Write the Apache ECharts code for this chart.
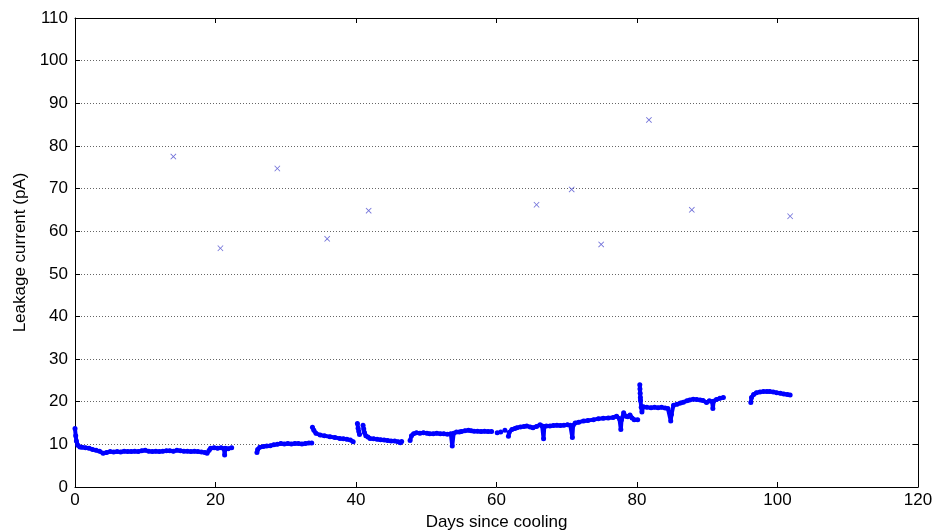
<!DOCTYPE html>
<html>
<head>
<meta charset="utf-8">
<script src="https://cdn.jsdelivr.net/npm/echarts@6/dist/echarts.min.js"></script>
<style>
html,body{margin:0;padding:0;background:#fff;}
#chart{width:949px;height:531px;}
</style>
</head>
<body>
<div id="chart"></div>
<script>
// Leakage current measurements (null = gap in data)
const days = [
0.0,0.1,0.2,0.4,0.7,1.0,1.5,2.0,2.5,3.0,3.5,4.0,4.5,5.0,5.5,6.0,6.5,7.0,7.5,8.0,8.5,9.0,9.5,10.0,10.5,11.0,11.5,12.0,12.5,13.0,13.5,14.0,14.5,15.0,15.5,16.0,16.5,17.0,17.5,18.0,18.5,18.8,19.1,19.3,19.8,20.3,20.8,21.2,21.3,21.4,21.8,22.3,null,
25.9,26.0,26.3,26.8,27.3,27.8,28.3,28.8,29.3,29.8,30.3,30.8,31.3,31.8,32.3,32.8,33.3,33.7,null,
33.8,34.0,34.3,34.9,35.5,36.3,37.0,37.7,38.2,38.7,39.2,39.6,null,
40.2,40.3,40.4,40.5,null,
41.0,41.1,41.2,41.4,41.7,42.0,42.5,43.0,43.5,44.0,44.5,45.0,45.5,46.0,46.3,46.5,null,
47.7,47.9,48.2,48.6,49.1,49.6,50.1,50.5,51.0,51.5,52.0,52.5,53.0,53.5,53.7,53.9,54.3,54.7,55.0,55.5,56.0,56.4,56.8,57.3,57.8,58.3,58.8,59.3,null,
60.1,null,60.6,null,61.2,null,
61.7,61.8,62.2,62.6,62.9,63.4,63.9,64.3,64.8,65.2,65.7,66.2,66.5,66.7,66.8,67.1,67.6,68.1,68.6,69.1,69.6,70.1,70.5,70.8,70.9,71.2,71.7,72.4,73.0,73.8,74.5,75.2,75.9,76.6,77.1,77.5,77.7,77.8,78.1,78.4,78.7,79.0,79.3,79.6,80.1,null,
80.4,80.42,80.45,80.48,80.5,80.6,80.7,80.9,81.4,82.0,82.5,83.0,83.5,84.0,84.4,84.8,84.9,85.2,85.7,86.2,86.6,87.1,87.5,88.0,88.5,89.0,89.4,89.9,90.3,90.7,90.8,90.9,91.3,91.8,92.3,null,
96.2,96.3,96.6,97.0,97.5,98.0,98.5,98.9,99.4,99.9,100.4,100.9,101.4,101.8
];
const current = [
13.7,12.0,10.8,9.8,9.4,9.3,9.2,9.1,8.8,8.6,8.4,7.9,8.1,8.3,8.2,8.3,8.2,8.4,8.3,8.3,8.4,8.3,8.5,8.6,8.4,8.3,8.4,8.3,8.4,8.5,8.5,8.4,8.6,8.5,8.4,8.4,8.3,8.4,8.3,8.2,8.1,7.9,8.6,9.1,9.2,9.1,9.2,9.0,7.5,9.1,9.0,9.2,null,
8.1,8.8,9.3,9.5,9.6,9.7,9.9,10.0,10.2,10.1,10.2,10.1,10.2,10.2,10.1,10.2,10.3,10.3,null,
14.0,13.3,12.6,12.2,12.0,11.8,11.6,11.4,11.3,11.2,11.0,10.6,null,
14.9,13.8,13.0,12.3,null,
14.5,13.6,12.8,12.0,11.7,11.4,11.3,11.2,11.1,11.0,10.9,10.8,10.8,10.6,10.4,10.7,null,
10.9,12.0,12.5,12.7,12.6,12.7,12.6,12.5,12.5,12.6,12.5,12.5,12.4,12.5,9.6,12.6,12.9,12.9,13.0,13.2,13.3,13.2,13.1,13.1,13.0,13.1,13.0,13.0,null,
12.7,null,12.9,null,13.3,null,
11.9,12.8,13.5,13.7,13.9,14.1,14.2,14.3,14.1,13.9,14.2,14.6,14.3,11.3,14.2,14.3,14.3,14.4,14.5,14.4,14.5,14.6,14.5,11.6,14.4,15.0,15.2,15.5,15.6,15.8,16.0,16.1,16.2,16.3,16.6,16.0,13.5,15.8,17.4,16.6,16.5,16.9,16.2,15.8,15.8,null,
24.0,23.0,22.0,21.0,20.3,18.7,17.6,18.8,18.7,18.6,18.7,18.6,18.7,18.5,18.4,15.5,17.0,19.2,19.4,19.7,19.9,20.2,20.4,20.6,20.5,20.4,20.3,19.8,20.2,20.0,18.4,20.1,20.5,20.8,21.0,null,
19.8,21.0,21.7,22.1,22.3,22.4,22.4,22.4,22.3,22.1,22.0,21.8,21.7,21.6
];
// Outlier readings (drawn as crosses)
const outlierDays = [14, 20.7, 28.8, 35.9, 41.8, 65.7, 70.7, 74.9, 81.7, 87.8, 101.8];
const outlierCurrent = [77.5, 56.0, 74.7, 58.2, 64.8, 66.2, 69.8, 56.9, 86.1, 65.0, 63.5];

const xTicks = {min: 0, max: 120, interval: 20};
const yTicks = {min: 0, max: 110, interval: 10};

const leakData = days.map((d, i) => d === null ? [NaN, NaN] : [d, current[i] === null ? NaN : current[i]]);
const outData = outlierDays.map((d, i) => [d, outlierCurrent[i]]);

const FONT = 'Liberation Sans';
const chart = echarts.init(document.getElementById('chart'), null, {renderer: 'canvas'});
const tickStyle = {show: true, inside: true, length: 5, lineStyle: {color: '#000', width: 1}};
const lineStyle = {show: true, lineStyle: {color: '#000', width: 1}};
chart.setOption({
  animation: false,
  backgroundColor: '#fff',
  grid: {left: 75, right: 31, top: 18, bottom: 44, containLabel: false, outerBoundsMode: 'none'},
  xAxis: [
    {type: 'value', min: xTicks.min, max: xTicks.max, interval: xTicks.interval, position: 'bottom',
     axisLine: Object.assign({onZero: false}, lineStyle), axisTick: tickStyle, splitLine: {show: false},
     axisLabel: {color: '#000', fontFamily: FONT, fontSize: 17, margin: 5},
     name: 'Days since cooling', nameLocation: 'middle', nameGap: 27,
     nameTextStyle: {color: '#000', fontFamily: FONT, fontSize: 17}},
    {type: 'value', min: xTicks.min, max: xTicks.max, interval: xTicks.interval, position: 'top',
     axisLine: Object.assign({onZero: false}, lineStyle), axisTick: tickStyle, splitLine: {show: false},
     axisLabel: {show: false}}
  ],
  yAxis: [
    {type: 'value', min: yTicks.min, max: yTicks.max, interval: yTicks.interval, position: 'left',
     axisLine: Object.assign({onZero: false}, lineStyle), axisTick: tickStyle,
     splitLine: {show: true, lineStyle: {color: '#666', width: 1, type: [1, 2]}},
     axisLabel: {color: '#000', fontFamily: FONT, fontSize: 17, margin: 7},
     name: 'Leakage current (pA)', nameLocation: 'middle', nameGap: 34,
     nameTextStyle: {color: '#000', fontFamily: FONT, fontSize: 17}},
    {type: 'value', min: yTicks.min, max: yTicks.max, interval: yTicks.interval, position: 'right',
     axisLine: Object.assign({onZero: false}, lineStyle), axisTick: tickStyle, splitLine: {show: false},
     axisLabel: {show: false}}
  ],
  series: [
    {type: 'line', data: leakData, xAxisIndex: 0, yAxisIndex: 0,
     showSymbol: true, showAllSymbol: true, symbol: 'circle', symbolSize: 5,
     connectNulls: false, itemStyle: {color: '#0000ff'},
     lineStyle: {color: '#0000ff', width: 4}, silent: true},
    {type: 'scatter', data: outData, xAxisIndex: 0, yAxisIndex: 0,
     symbol: 'path://M0,1L1,0L5,4L9,0L10,1L6,5L10,9L9,10L5,6L1,10L0,9L4,5Z', symbolSize: 6,
     itemStyle: {color: '#4f4fd0'}, silent: true}
  ]
});
</script>
</body>
</html>
